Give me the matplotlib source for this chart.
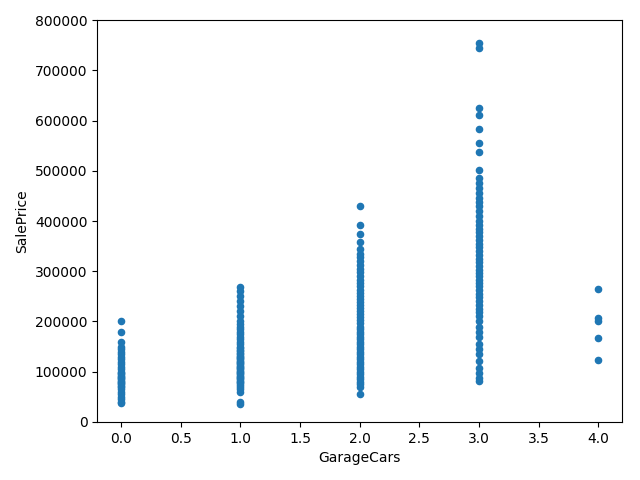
import matplotlib
matplotlib.use("Agg")
import matplotlib.pyplot as plt

# SalePrice values read per GarageCars column
cars0 = [200000, 180000, 160000, 150000, 145000, 140000, 135000, 130000, 125000, 120000,
         115000, 110000, 105000, 100000, 98000, 95000, 92000, 90000, 88000, 85000,
         82000, 80000, 78000, 75000, 72000, 70000, 65000, 60000, 55000, 50000,
         45000, 40000, 37000]
cars1 = [268000, 260000, 250000, 240000, 230000, 220000, 210000, 200000, 195000, 190000,
         185000, 180000, 175000, 170000, 165000, 160000, 155000, 150000, 147000, 144000,
         141000, 138000, 135000, 132000, 130000, 128000, 125000, 122000, 120000, 118000,
         115000, 112000, 110000, 108000, 105000, 102000, 100000, 98000, 95000, 92000,
         90000, 88000, 85000, 82000, 80000, 77000, 74000, 70000, 66000, 60000,
         40000, 36000]
cars2 = [430000, 393000, 375000, 358000, 345000, 335000, 328000, 320000, 312000, 305000,
         298000, 290000, 283000, 276000, 270000, 263000, 256000, 250000, 244000, 238000,
         232000, 226000, 220000, 214000, 208000, 202000, 196000, 190000, 185000, 180000,
         175000, 170000, 165000, 160000, 155000, 150000, 145000, 140000, 135000, 130000,
         125000, 120000, 115000, 110000, 105000, 100000, 95000, 90000, 85000, 80000,
         75000, 70000, 55000]
cars3 = [755000, 745000, 625000, 611000, 583000, 556000, 538000, 501000, 485000, 475000,
         466000, 455000, 445000, 438000, 430000, 420000, 410000, 400000, 392000, 385000,
         378000, 370000, 362000, 355000, 348000, 340000, 333000, 325000, 318000, 310000,
         303000, 296000, 290000, 283000, 276000, 270000, 262000, 255000, 248000, 240000,
         232000, 225000, 218000, 210000, 200000, 190000, 180000, 170000, 155000, 145000,
         135000, 122000, 108000, 98000, 88000, 82000]
cars4 = [265000, 206000, 200000, 168000, 123000]

x = [0] * len(cars0) + [1] * len(cars1) + [2] * len(cars2) + [3] * len(cars3) + [4] * len(cars4)
y = cars0 + cars1 + cars2 + cars3 + cars4

fig, ax = plt.subplots(figsize=(6.4, 4.8), dpi=100)
ax.scatter(x, y, s=20, color="#1f77b4")
ax.set_xlim(-0.2, 4.2)
ax.set_ylim(0, 800000)
ax.set_xlabel("GarageCars")
ax.set_ylabel("SalePrice")
fig.subplots_adjust(left=0.152, right=0.972, top=0.958, bottom=0.121)
plt.savefig("out.png")
